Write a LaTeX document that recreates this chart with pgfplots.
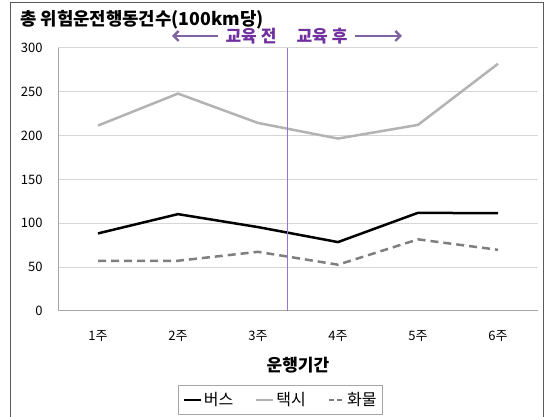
\documentclass[border=0pt]{standalone}
\usepackage{fontspec}
\setmainfont{Noto Sans CJK KR}
\usepackage{pgfplots}
\pgfplotsset{compat=1.18}
\usetikzlibrary{arrows.meta}

\definecolor{framegray}{HTML}{5A5A5A}
\definecolor{gridgray}{HTML}{D6D6D6}
\definecolor{axisgray}{HTML}{A6A6A6}
\definecolor{taxigray}{HTML}{B3B3B3}
\definecolor{cargogray}{HTML}{7F7F7F}
\definecolor{eduPurple}{HTML}{7030A0}
\definecolor{arrowPurple}{HTML}{8064A2}
\definecolor{dividerPurple}{HTML}{9A72D0}

\begin{document}
\begin{tikzpicture}[x=1pt,y=1pt]
\useasboundingbox (0,0) rectangle (546,417);
\clip (0,0) rectangle (546,417);
\fill[white] (0,0) rectangle (546,417);
% outer chart frame
\draw[framegray, line width=1.5pt] (10.5,-5) -- (10.5,414.5) -- (543.5,414.5) -- (543.5,-5);
% chart title
\node[anchor=west, inner sep=0pt, font=\fontsize{17.8}{19}\selectfont\bfseries] at (20,397.5) {총 위험운전행동건수(100km당)};

\coordinate (plotSW) at (58,106);
\begin{axis}[
  at={(plotSW)}, anchor=south west,
  scale only axis, width=480pt, height=263pt,
  xmin=0.5, xmax=6.5, ymin=0, ymax=300,
  xtick={1,2,3,4,5,6},
  xticklabels={1주,2주,3주,4주,5주,6주},
  ytick={0,50,100,150,200,250,300},
  ymajorgrids, grid style={gridgray, line width=1pt},
  axis lines=left, axis line style={-, axisgray, line width=1pt},
  major tick length=0pt,
  /pgf/number format/assume math mode=true,
  ticklabel style={font=\fontsize{13}{15}\selectfont},
  yticklabel style={xshift=-12pt},
  xticklabel style={yshift=-16pt},
  xlabel={운행기간},
  xlabel style={font=\fontsize{17}{19}\selectfont\bfseries, yshift=-9pt},
  legend columns=3,
  legend style={at={(rel axis cs:0.2504,-0.2814)}, anchor=north west,
    draw=axisgray, line width=0.8pt, inner xsep=4pt, inner ysep=5pt,
    font=\fontsize{16}{17}\selectfont,
    /tikz/every odd column/.append style={column sep=0pt},
    /tikz/every even column/.append style={column sep=20pt}},
  legend cell align=left,
  legend image code/.code={\draw[#1, line width=2.2pt] (0pt,0pt) -- (17pt,0pt);},
  clip=false,
]
% week-by-week totals per 100 km
\addplot[black, line width=2.5pt] coordinates {
  (1,88.5) (2,110.5) (3,95.7) (4,78.6) (5,112) (6,111.5)};
\addlegendentry{버스}
\addplot[taxigray, line width=2.5pt] coordinates {
  (1,211.5) (2,248) (3,214.5) (4,196.7) (5,212.3) (6,282)};
\addlegendentry{택시}
\addplot[cargogray, line width=2.5pt, dash pattern=on 8pt off 5pt,
  legend image code/.code={\draw[cargogray, line width=2.2pt, dash pattern=on 5pt off 3pt] (0pt,0pt) -- (15pt,0pt);}] coordinates {
  (1,57.3) (2,57.3) (3,67.5) (4,52.8) (5,81.7) (6,69.8)};
\addlegendentry{화물}
% boundary between before and after training
\addplot[draw=dividerPurple, line width=1pt, forget plot] coordinates {(3.37,0) (3.37,300)};
\end{axis}

% before / after labels
\node[font=\fontsize{17}{19}\selectfont\bfseries, text=eduPurple, inner sep=0pt] at (251,381) {교육 전};
\node[font=\fontsize{17}{19}\selectfont\bfseries, text=eduPurple, inner sep=0pt] at (322,381) {교육 후};
\draw[arrowPurple, line width=2.4pt, -{Straight Barb[length=5pt, width=10pt]}] (218,381) -- (172,381);
\draw[arrowPurple, line width=2.4pt, -{Straight Barb[length=5pt, width=10pt]}] (355,381) -- (402,381);
\end{tikzpicture}
\end{document}
